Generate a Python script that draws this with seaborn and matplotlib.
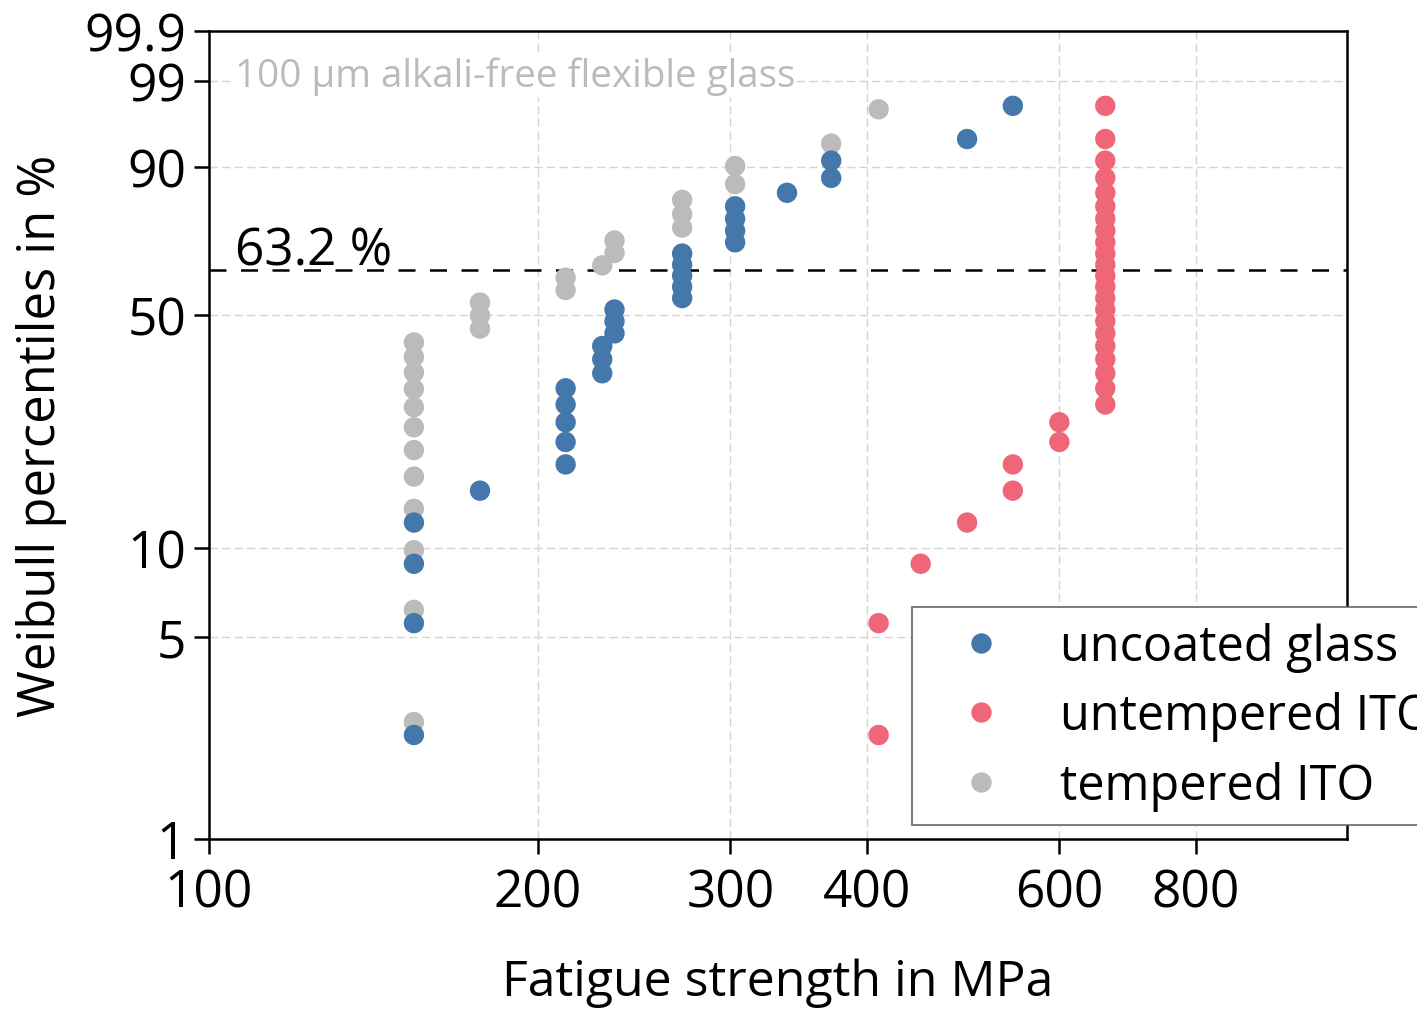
import numpy as np
import pandas as pd
import matplotlib
matplotlib.use("Agg")
import matplotlib.pyplot as plt
import seaborn as sns

# Fatigue strength of every specimen in MPa, sorted ascending within each series
uncoated_mpa = [154, 154, 154, 154, 177, 212, 212, 212, 212, 212,
                229, 229, 229, 235, 235, 235, 271, 271, 271, 271,
                271, 303, 303, 303, 303, 338, 371, 371, 494, 544]
untempered_mpa = [410, 410, 448, 494, 544, 544, 600, 600, 661, 661,
                  661, 661, 661, 661, 661, 661, 661, 661, 661, 661,
                  661, 661, 661, 661, 661, 661, 661, 661, 661, 661]
tempered_mpa = [154, 154, 154, 154, 154, 154, 154, 154, 154, 154,
                154, 154, 177, 177, 177, 212, 212, 229, 235, 235,
                271, 271, 271, 303, 303, 371, 410]

series_names = ["uncoated glass", "untempered ITO", "tempered ITO"]
series_colors = ["#4477AA", "#EE6677", "#BBBBBB"]

y_ticks = [1, 5, 10, 50, 90, 99, 99.9]
y_tick_labels = ["1", "5", "10", "50", "90", "99", "99.9"]
x_ticks = [100, 200, 300, 400, 600, 800]
x_tick_labels = ["100", "200", "300", "400", "600", "800"]
characteristic_pct = 63.2


def median_rank_pct(n):
    """Bernard's median-rank plotting positions, in percent."""
    i = np.arange(1, n + 1)
    return (i - 0.3) / (n + 0.4) * 100.0


def weibull_fwd(p):
    p = np.clip(np.asarray(p, dtype=float), 1e-9, 100 - 1e-9)
    return np.log(-np.log(1.0 - p / 100.0))


def weibull_inv(w):
    return 100.0 * (1.0 - np.exp(-np.exp(np.asarray(w, dtype=float))))


# Build a long table; tempered ITO first so it sits underneath in the draw order
frames = []
for name, vals in [("tempered ITO", tempered_mpa),
                   ("uncoated glass", uncoated_mpa),
                   ("untempered ITO", untempered_mpa)]:
    vals = np.sort(np.asarray(vals, dtype=float))
    frames.append(pd.DataFrame({"strength": vals,
                                "percentile": median_rank_pct(len(vals)),
                                "series": name}))
df = pd.concat(frames, ignore_index=True)

sns.set_style("white")
plt.rcParams["font.family"] = ["Open Sans", "DejaVu Sans"]
plt.rcParams["text.color"] = "black"
plt.rcParams["axes.labelcolor"] = "black"
plt.rcParams["xtick.color"] = "black"
plt.rcParams["ytick.color"] = "black"

fig = plt.figure(figsize=(14.17, 10.12), dpi=100)
ax = fig.add_axes([0.1475, 0.17, 0.8031, 0.7984])

ax.set_xscale("log")
ax.set_yscale("function", functions=(weibull_fwd, weibull_inv))

# characteristic-life reference line
ax.axhline(characteristic_pct, color="black", lw=1.8,
           linestyle=(0, (6.8, 5.8)), zorder=1.5)

sns.scatterplot(data=df, x="strength", y="percentile", hue="series",
                hue_order=series_names, palette=dict(zip(series_names, series_colors)),
                s=215, linewidth=0, alpha=1, ax=ax, zorder=3)

ax.set_xlim(100, 1100)
ax.set_ylim(1, 99.9)
ax.set_xticks(x_ticks)
ax.set_xticklabels(x_tick_labels)
ax.xaxis.set_minor_locator(matplotlib.ticker.NullLocator())
ax.set_yticks(y_ticks)
ax.set_yticklabels(y_tick_labels)
ax.yaxis.set_minor_locator(matplotlib.ticker.NullLocator())

ax.grid(True, which="major", color="#d4d4d4", linestyle=(0, (6, 3)), linewidth=1.0)
ax.set_axisbelow(True)

for sp in ax.spines.values():
    sp.set_visible(True)
    sp.set_color("black")
    sp.set_linewidth(1.8)

ax.tick_params(axis="both", which="major", direction="out", length=10.5, width=1.8,
               labelsize=37, color="black", labelcolor="black", bottom=True, left=True)
ax.tick_params(axis="x", pad=10)
ax.tick_params(axis="y", pad=6)

ax.set_xlabel("Fatigue strength in MPa", fontsize=36, labelpad=28)
ax.set_ylabel("Weibull percentiles in %", fontsize=36.5, labelpad=12)

ax.annotate("63.2 %", xy=(0.023, characteristic_pct),
            xycoords=ax.get_yaxis_transform(), xytext=(0, 4),
            textcoords="offset points", fontsize=37, ha="left", va="baseline")

ax.text(0.023, 0.945, "100 µm alkali-free flexible glass", transform=ax.transAxes,
        fontsize=27.8, color="#BBBBBB", ha="left", va="center", zorder=2,
        bbox=dict(facecolor="white", edgecolor="none", pad=1.5))

handles, labels = ax.get_legend_handles_labels()
leg = ax.legend(handles, labels, loc="upper left", bbox_to_anchor=(0.618, 0.287),
                borderaxespad=0, fontsize=35, frameon=True, fancybox=False,
                edgecolor="#666666", framealpha=1, borderpad=0.3,
                handlelength=2.24, handletextpad=0.5, labelspacing=0.4)
leg.get_frame().set_linewidth(1.2)

fig.savefig("out.png", dpi=100)
